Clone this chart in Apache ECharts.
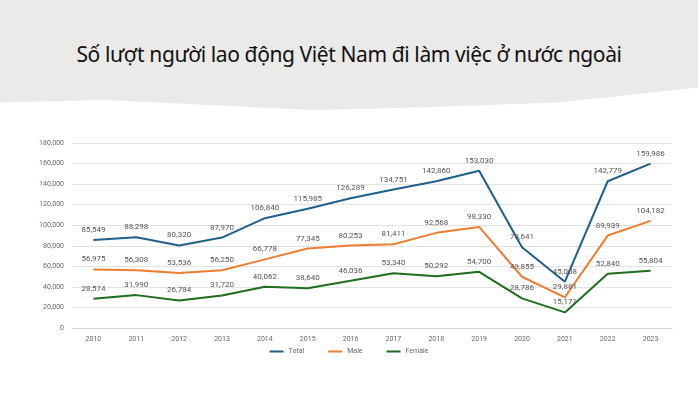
<!DOCTYPE html>
<html><head><meta charset="utf-8">
<script src="https://cdn.jsdelivr.net/npm/echarts@6/dist/echarts.min.js"></script>
<style>
body{margin:0;background:#fff;}
#head{position:absolute;left:0;top:0;width:698px;height:125px;background:#ebeae8;
 clip-path:polygon(0 0,100% 0,100% 70%,90% 76%,80% 82%,60% 86%,45% 88%,30% 84%,15% 80%,0 82%);}
#title{position:absolute;left:0;top:40px;width:698px;text-align:center;font-family:"Noto Sans",sans-serif;font-size:21px;color:#111;letter-spacing:-0.4px;}
#chart{position:absolute;left:0;top:0;width:698px;height:405px;}
</style></head>
<body>
<div id="head"></div>
<div id="title">Số lượt người lao động Việt Nam đi làm việc ở nước ngoài</div>
<div id="chart"></div>
<script>
var years=['2010','2011','2012','2013','2014','2015','2016','2017','2018','2019','2020','2021','2022','2023'];
var total=[85549,88298,80320,87970,106840,115985,126289,134751,142860,153030,78641,45058,142779,159986];
var male=[56975,56308,53536,56250,66778,77345,80253,81411,92568,98330,49855,29881,89939,104182];
var female=[28574,31990,26784,31720,40062,38640,46036,53340,50292,54700,28786,15171,52840,55804];

var myChart=echarts.init(document.getElementById('chart'));
function line(name,data,color){
  return {name:name,type:'line',data:data,symbol:'circle',symbolSize:0,showSymbol:true,
    lineStyle:{width:2,color:color},itemStyle:{color:color},
    label:{show:true,position:'top',distance:6,color:'#555',fontSize:8,
      formatter:function(p){return p.value.toLocaleString('en-US');}}};
}
myChart.setOption({
  animation:false,
  textStyle:{fontFamily:'Roboto, sans-serif'},
  grid:{left:72,right:26,top:143,bottom:77},
  legend:{bottom:45,itemWidth:14,itemHeight:2,icon:'rect',textStyle:{fontSize:7,color:'#666'},itemGap:24},
  xAxis:{type:'category',data:years,boundaryGap:true,
    axisLine:{lineStyle:{color:'#d9d9d9'}},axisTick:{show:false},
    axisLabel:{color:'#666',fontSize:7}},
  yAxis:{type:'value',min:0,max:180000,interval:20000,
    axisLabel:{color:'#666',fontSize:7,formatter:function(v){return v.toLocaleString('en-US');}},
    splitLine:{lineStyle:{color:'#e3e3e3'}}},
  series:[line('Total',total,'#1f5f8b'),line('Male',male,'#ed7d31'),line('Female',female,'#1e6e1e')]
});
</script>
</body></html>
